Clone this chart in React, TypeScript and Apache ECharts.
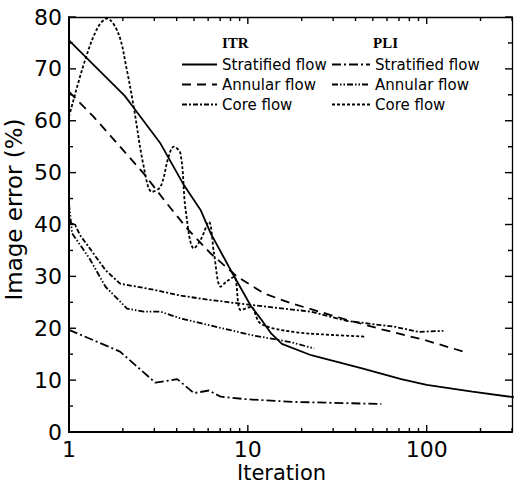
import React, { useEffect, useRef } from "react";
import * as echarts from "echarts";

type Pt = [number, number];

const xTickLabels = [1, 10, 100];
const xMajorTicks = [1, 10, 100];
const xMinorTicks = [2, 3, 4, 5, 6, 7, 8, 9, 20, 30, 40, 50, 60, 70, 80, 90, 200, 300];
const yMajorTicks = [0, 10, 20, 30, 40, 50, 60, 70, 80];
const yMinorTicks = [5, 15, 25, 35, 45, 55, 65, 75];

const itrStratified: Pt[] = [
  [1, 75.5], [2.05, 64.8], [2.3, 62.5], [3.25, 55.6], [4.39, 47.6], [5.44, 42.8],
  [6.2, 38.3], [8.2, 30.6], [10.4, 24.3], [12, 21.5], [13.5, 19], [15.5, 17],
  [22.6, 14.8], [43, 12.3], [72, 10.2], [100, 9.1], [180, 7.8], [307, 6.7],
];
const itrAnnular: Pt[] = [
  [1, 65.6], [1.37, 60.8], [1.93, 55], [2.62, 49.8], [3.46, 44.4], [4.58, 39.2],
  [6.2, 34.4], [8.75, 29.9], [12.35, 26.7], [17.5, 24.8], [36, 21.6], [56, 19.8],
  [98, 17.7], [168, 15.3],
];
const itrCore: Pt[] = [
  [1, 40.3], [1.08, 40], [1.15, 38], [1.3, 35.5], [1.6, 31.2], [1.93, 28.6],
  [3, 27.4], [4.2, 26.3], [6, 25.5], [10.4, 24.5], [22.6, 23.2], [36, 21.4],
  [55.8, 20.6], [66, 20.3], [90, 19.3], [124, 19.5],
];
const pliStratified: Pt[] = [
  [1, 19.7], [1.93, 15.5], [3.04, 9.5], [4.03, 10.2], [4.99, 7.5], [6.06, 8.0],
  [7.05, 6.8], [9.96, 6.3], [18.2, 5.8], [55.8, 5.4],
];
const pliAnnular: Pt[] = [
  [1, 44], [1.04, 38.3], [1.3, 33.5], [1.6, 28], [2.11, 23.8], [2.62, 23.2],
  [3.25, 23.2], [4.2, 21.9], [10.4, 18.7], [17.5, 17.3], [23.5, 16.1],
];
const pliCore: Pt[] = [
  [1, 60.8], [1.23, 71.7], [1.45, 78], [1.63, 79.7], [1.89, 76.8], [2.1, 70],
  [2.3, 62.7], [2.62, 51.1], [2.91, 46.3], [3.25, 47.3], [3.6, 53], [3.85, 55],
  [4.2, 53.7], [4.49, 42.8], [4.99, 35.4], [5.44, 37], [6.06, 40.5], [6.47, 34.4],
  [7.05, 28], [7.6, 29], [8.38, 29.9], [9.13, 23.5], [10.4, 24.1], [11.8, 20.9],
  [18, 19.3], [30, 18.7], [45, 18.4],
];

const SANS = "DejaVu Sans";
const X_MIN = 1;
const X_MAX = 300;
const Y_MIN = 0;
const Y_MAX = 80;

// tick items: [x, y, side(0 bottom,1 top,2 left,3 right), length]
const tickItems: number[][] = [
  ...xMajorTicks.map((v) => [v, Y_MIN, 0, 7]),
  ...xMinorTicks.map((v) => [v, Y_MIN, 0, 4]),
  ...xMajorTicks.map((v) => [v, Y_MAX, 1, 7]),
  ...xMinorTicks.map((v) => [v, Y_MAX, 1, 4]),
  ...yMajorTicks.map((v) => [X_MIN, v, 2, 7]),
  ...yMinorTicks.map((v) => [X_MIN, v, 2, 4]),
  ...yMajorTicks.map((v) => [X_MAX, v, 3, 7]),
  ...yMinorTicks.map((v) => [X_MAX, v, 3, 4]),
];

export default function App() {
  const ref = useRef<HTMLDivElement>(null);
  useEffect(() => {
    if (!ref.current) return;
    const chart = echarts.init(ref.current, undefined, { renderer: "svg" });
    const lineSeries = (name: string, data: Pt[], type: any, smooth: any = false) => ({
      name,
      type: "line",
      data,
      symbol: "none",
      showSymbol: false,
      smooth,
      xAxisIndex: 0,
      yAxisIndex: 0,
      lineStyle: { color: "#000", width: 1.8, type },
      itemStyle: { color: "#000" },
    });
    const fmt = (n: string) => n.split("|")[1];
    const legendBase = {
      orient: "vertical",
      padding: 0,
      itemHeight: 14,
      itemGap: 5,
      selectedMode: false,
      formatter: fmt,
      itemStyle: { opacity: 0 },
      textStyle: { fontFamily: SANS, fontSize: 15, color: "#000", lineHeight: 14 },
    };
    chart.setOption({
      animation: false,
      grid: { left: 69, right: 2, top: 17, bottom: 54, containLabel: false, outerBoundsMode: "none" },
      legend: [
        { ...legendBase, left: 181, top: 57, itemWidth: 35,
          data: ["ITR|Stratified flow", "ITR|Annular flow", "ITR|Core flow"] },
        { ...legendBase, left: 331, top: 57, itemWidth: 38,
          data: ["PLI|Stratified flow", "PLI|Annular flow", "PLI|Core flow"] },
      ],
      graphic: [
        { type: "text", left: 222, top: 35,
          style: { text: "ITR", fontFamily: "Liberation Serif", fontSize: 15, fontWeight: "bold", fill: "#000" } },
        { type: "text", left: 373, top: 35,
          style: { text: "PLI", fontFamily: "Liberation Serif", fontSize: 15, fontWeight: "bold", fill: "#000" } },
      ],
      xAxis: [
        {
          type: "log", logBase: 10, min: X_MIN, max: X_MAX,
          name: "Iteration", nameLocation: "middle", nameGap: 30, nameMoveOverlap: false,
          nameTextStyle: { fontFamily: SANS, fontSize: 21, color: "#000", padding: [0, 18, 0, 0] },
          axisLine: { onZero: false, lineStyle: { color: "#000", width: 2 } },
          axisTick: { show: false },
          axisLabel: {
            fontFamily: SANS, fontSize: 22, color: "#000", margin: 6,
            formatter: (v: number) => (xTickLabels.includes(Math.round(v)) ? String(Math.round(v)) : ""),
          },
          splitLine: { show: false },
        },
        {
          type: "log", logBase: 10, min: X_MIN, max: X_MAX, position: "top",
          axisLine: { onZero: false, lineStyle: { color: "#000", width: 1.3 } },
          axisTick: { show: false },
          axisLabel: { show: false },
          splitLine: { show: false },
        },
      ],
      yAxis: [
        {
          type: "value", min: Y_MIN, max: Y_MAX, interval: 10,
          name: "Image error (%)", nameLocation: "middle", nameGap: 44, nameMoveOverlap: false,
          nameTextStyle: { fontFamily: SANS, fontSize: 23, color: "#000", padding: [0, 0, 0, 30] },
          axisLine: { show: true, onZero: false, lineStyle: { color: "#000", width: 2 } },
          axisTick: { show: false },
          axisLabel: { fontFamily: SANS, fontSize: 22, color: "#000", margin: 7 },
          splitLine: { show: false },
        },
        {
          type: "value", min: Y_MIN, max: Y_MAX, interval: 10, position: "right",
          axisLine: { show: true, onZero: false, lineStyle: { color: "#000", width: 1.3 } },
          axisTick: { show: false },
          axisLabel: { show: false },
          splitLine: { show: false },
        },
      ],
      series: [
        lineSeries("ITR|Stratified flow", itrStratified, "solid"),
        lineSeries("ITR|Annular flow", itrAnnular, [9, 6]),
        lineSeries("ITR|Core flow", itrCore, [5, 2, 2, 2]),
        lineSeries("PLI|Stratified flow", pliStratified, [9, 3, 2, 3]),
        lineSeries("PLI|Annular flow", pliAnnular, [6, 2, 1.5, 2, 1.5, 2]),
        lineSeries("PLI|Core flow", pliCore, [3, 2], 0.35),
        {
          name: "frameTicks",
          type: "custom",
          silent: true,
          clip: false,
          xAxisIndex: 0,
          yAxisIndex: 0,
          data: tickItems,
          encode: { x: 0, y: 1 },
          z: 10,
          renderItem: (_params: any, api: any) => {
            const p = api.coord([api.value(0), api.value(1)]);
            const side = api.value(2);
            const len = api.value(3);
            let x2 = p[0];
            let y2 = p[1];
            if (side === 0) y2 -= len;
            else if (side === 1) y2 += len;
            else if (side === 2) x2 += len;
            else x2 -= len;
            return {
              type: "line",
              shape: { x1: p[0], y1: p[1], x2, y2 },
              style: { stroke: "#000", lineWidth: 1.4 },
            };
          },
        },
      ],
    });
    return () => chart.dispose();
  }, []);
  return <div ref={ref} style={{ width: 514, height: 486, position: "absolute", left: 0, top: 0, background: "#fff" }} />;
}
